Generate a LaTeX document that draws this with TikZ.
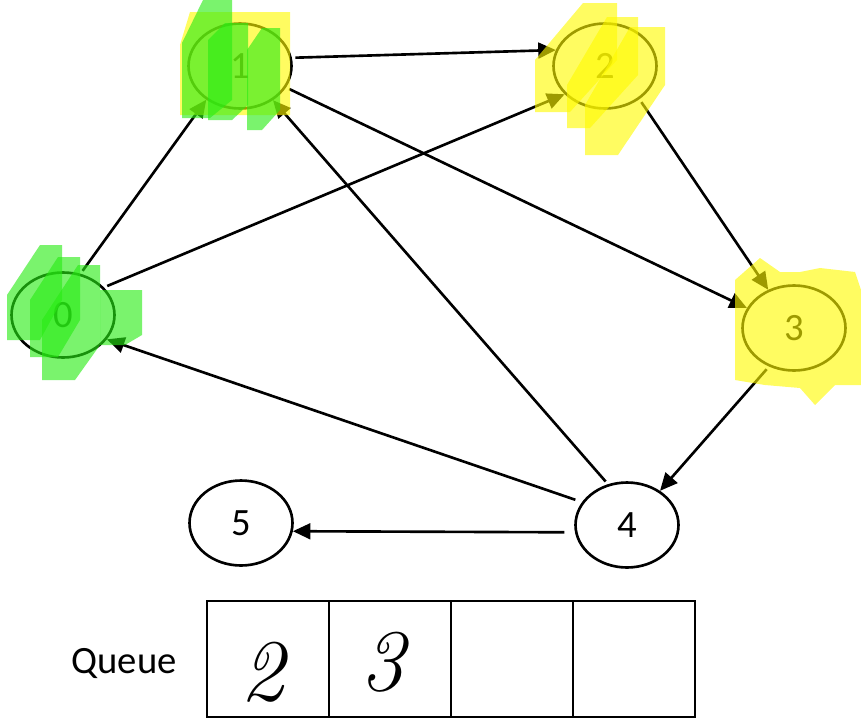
\documentclass[tikz,border=0pt]{standalone}
\usepackage{fontspec}
\setmainfont{Carlito}
\usetikzlibrary{arrows.meta,shapes.geometric}

\definecolor{markgreen}{RGB}{40,235,20}
\definecolor{markyellow}{RGB}{255,250,0}

\tikzset{
	vertex/.style={ellipse, draw, line width=1.5pt, minimum width=2.06cm, minimum height=1.70cm, inner sep=0pt, font=\fontsize{22}{26}\selectfont},
	edge/.style={-{Triangle[length=10pt,width=9pt]}, line width=1.5pt, shorten <=2pt},
	cell/.style={rectangle, draw, line width=1.5pt, minimum width=2.44cm, minimum height=2.32cm, inner sep=0pt},
	handwritten/.style={font=\fontspec{Latin Modern Roman}\itshape\fontsize{50}{54}\selectfont},
	greenmark/.style={fill=markgreen, fill opacity=0.62},
	yellowmark/.style={fill=markyellow, fill opacity=0.62},
}

\begin{document}
\begin{tikzpicture}[x=0.02cm, y=-0.02cm]
	\useasboundingbox (0,0) rectangle (861,720);

	\node 	(n0)	at	(63,315) 	[vertex]{0};
	\node 	(n1)	at	(240,66) 	[vertex]{1};
	\node 	(n2)	at	(605,66) 	[vertex]{2};
	\node 	(n3)	at	(794,328) 	[vertex]{3};
	\node 	(n4)	at	(627,525) 	[vertex]{4};
	\node 	(n5)	at	(241,523) 	[vertex]{5};

	\draw[edge] (n1.9) 	to 	(n2.162);
	\draw[edge] (n0.67) 	to 	(n1.225);
	\draw[edge] (n0.34) 	to 	(n2.215);
	\draw[edge] (n1.335) 	to 	(n3.157);
	\draw[edge] (n2.316) 	to 	(n3.124);
	\draw[edge] (n3.237) 	to 	(n4.46);
	\draw[edge] (n4.115) 	to 	(n1.314);
	\draw[edge,shorten <=4pt] (n4.153) 	to 	(n0.331);
	\draw[edge,shorten <=6pt] (n4.188) 	to 	(n5.351);

	% queue
	\node 	(queue)	at	(124,664) 	[font=\fontsize{22}{26}\selectfont]{Queue};
	\node 	(q1)	at	(268,659) 	[cell]{};
	\node 	(q2)	at	(390,659) 	[cell]{};
	\node 	(q3)	at	(512,659) 	[cell]{};
	\node 	(q4)	at	(634,659) 	[cell]{};
	\node 	(h2)	at	(262,672) 	[handwritten]{2};
	\node 	(h3)	at	(382,662) 	[handwritten]{3};

	% marker strokes
	\fill[yellowmark] (180,45) -- (190,12) -- (290,12) -- (290,115) -- (180,115) -- cycle;
	\fill[greenmark] (182,43) -- (203,0) -- (232,0) -- (232,100) -- (210,118) -- (182,118) -- cycle;
	\fill[greenmark] (208,40) -- (225,23) -- (248,23) -- (248,105) -- (232,120) -- (208,120) -- cycle;
	\fill[greenmark] (247,50) -- (262,28) -- (280,28) -- (280,110) -- (262,130) -- (247,130) -- cycle;

	\fill[yellowmark] (535,60) -- (583,3) -- (617,3) -- (617,60) -- (570,112) -- (535,112) -- cycle;
	\fill[yellowmark] (567,85) -- (607,17) -- (638,17) -- (638,75) -- (590,128) -- (567,128) -- cycle;
	\fill[yellowmark] (585,105) -- (630,27) -- (665,27) -- (665,85) -- (618,155) -- (585,155) -- cycle;

	\fill[greenmark] (7,295) -- (40,245) -- (62,245) -- (62,300) -- (40,340) -- (7,340) -- cycle;
	\fill[greenmark] (30,300) -- (58,257) -- (80,257) -- (80,320) -- (58,357) -- (30,357) -- cycle;
	\fill[greenmark] (42,320) -- (78,265) -- (100,265) -- (100,345) -- (75,380) -- (42,380) -- cycle;
	\fill[greenmark] (100,290) -- (142,290) -- (142,335) -- (125,345) -- (100,345) -- cycle;

	\fill[yellowmark] (735,280) -- (760,258) -- (780,272) -- (800,272) -- (820,268) -- (855,272) -- (861,290) -- (861,385) -- (835,385) -- (815,405) -- (800,388) -- (765,385) -- (735,380) -- cycle;
\end{tikzpicture}
\end{document}
